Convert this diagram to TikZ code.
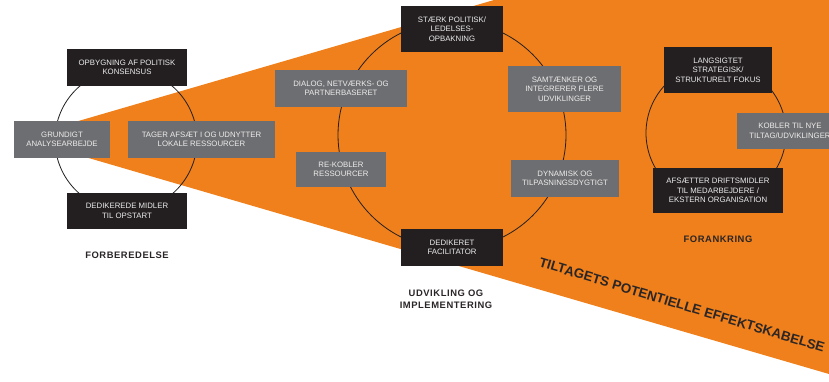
\documentclass[tikz,border=0pt]{standalone}
\usepackage{fontspec}
\setmainfont{Liberation Sans}
\newfontfamily\labelfont[LetterSpace=6]{Liberation Sans}
\begin{document}
\begin{tikzpicture}[x=1pt,y=-1pt,
  every node/.style={inner sep=0pt},
  darkbox/.style={fill=boxdark,text=boxtext,align=center,font=\fontsize{7.8}{9.4}\selectfont},
  greybox/.style={fill=boxgrey,text=boxtext,align=center,font=\fontsize{7.8}{9.4}\selectfont},
  ring/.style={draw=ringline,line width=0.8pt,circle},
  phase/.style={text=labeldark,align=center,font=\labelfont\bfseries\fontsize{9.4}{12}\selectfont}]
\definecolor{wedge}{HTML}{EF801B}
\definecolor{boxdark}{HTML}{231F20}
\definecolor{boxgrey}{HTML}{6D6E71}
\definecolor{boxtext}{HTML}{EDEDED}
\definecolor{labeldark}{HTML}{2A2526}
\definecolor{ringline}{HTML}{231F20}
\useasboundingbox (0,0) rectangle (829,381);
\begin{scope}
\clip (0,0) rectangle (829,381);
% expanding effect wedge
\fill[wedge] (20,138) -- (494,0) -- (829,0) -- (829,374) -- cycle;

% phase rings
\node[ring,minimum size=142pt] (ring1) at (126,140) {};
\node[ring,minimum size=228pt] (ring2) at (452,135) {};
\node[ring,minimum size=140pt] (ring3) at (716,133) {};

% preparation
\node[darkbox,minimum width=120pt,minimum height=37pt] (opb) at (127,67.5) {OPBYGNING AF POLITISK\\KONSENSUS};
\node[greybox,minimum width=96pt,minimum height=37pt] (grund) at (62,139.5) {GRUNDIGT\\ANALYSEARBEJDE};
\node[greybox,minimum width=147pt,minimum height=37pt] (tager) at (201.5,139.5) {TAGER AFSÆT I OG UDNYTTER\\LOKALE RESSOURCER};
\node[darkbox,minimum width=120pt,minimum height=36pt] (dedmid) at (127,211) {DEDIKEREDE MIDLER\\TIL OPSTART};

% development and implementation
\node[darkbox,minimum width=102pt,minimum height=46pt] (staerk) at (452,29) {STÆRK POLITISK/\\LEDELSES-\\OPBAKNING};
\node[greybox,minimum width=132pt,minimum height=37pt] (dialog) at (341,88.5) {DIALOG, NETVÆRKS- OG\\PARTNERBASERET};
\node[greybox,minimum width=113pt,minimum height=46pt] (samt) at (564.5,89) {SAMTÆNKER OG\\INTEGRERER FLERE\\UDVIKLINGER};
\node[greybox,minimum width=90pt,minimum height=35pt] (rekob) at (341,169.5) {RE-KOBLER\\RESSOURCER};
\node[greybox,minimum width=108pt,minimum height=37pt] (dyn) at (565,178.5) {DYNAMISK OG\\TILPASNINGSDYGTIGT};
\node[darkbox,minimum width=102pt,minimum height=37pt] (facil) at (452,247.5) {DEDIKERET\\FACILITATOR};

% anchoring
\node[darkbox,minimum width=108pt,minimum height=46pt] (lang) at (718,70) {LANGSIGTET\\STRATEGISK/\\STRUKTURELT FOKUS};
\node[greybox,minimum width=106pt,minimum height=36pt] (kobler) at (790,131) {KOBLER TIL NYE\\TILTAG/UDVIKLINGER};
\node[darkbox,minimum width=130pt,minimum height=45pt] (afs) at (718,190.5) {AFSÆTTER DRIFTSMIDLER\\TIL MEDARBEJDERE /\\EKSTERN ORGANISATION};

% phase titles
\node[phase] (t1) at (127,255) {FORBEREDELSE};
\node[phase] (t2) at (446,299) {UDVIKLING OG\\IMPLEMENTERING};
\node[phase] (t3) at (718,239) {FORANKRING};

% wedge caption
\node[text=labeldark,font=\bfseries\fontsize{13.4}{15}\selectfont,rotate=-16.8] (cap) at (682,305) {TILTAGETS POTENTIELLE EFFEKTSKABELSE};
\end{scope}
\end{tikzpicture}
\end{document}
